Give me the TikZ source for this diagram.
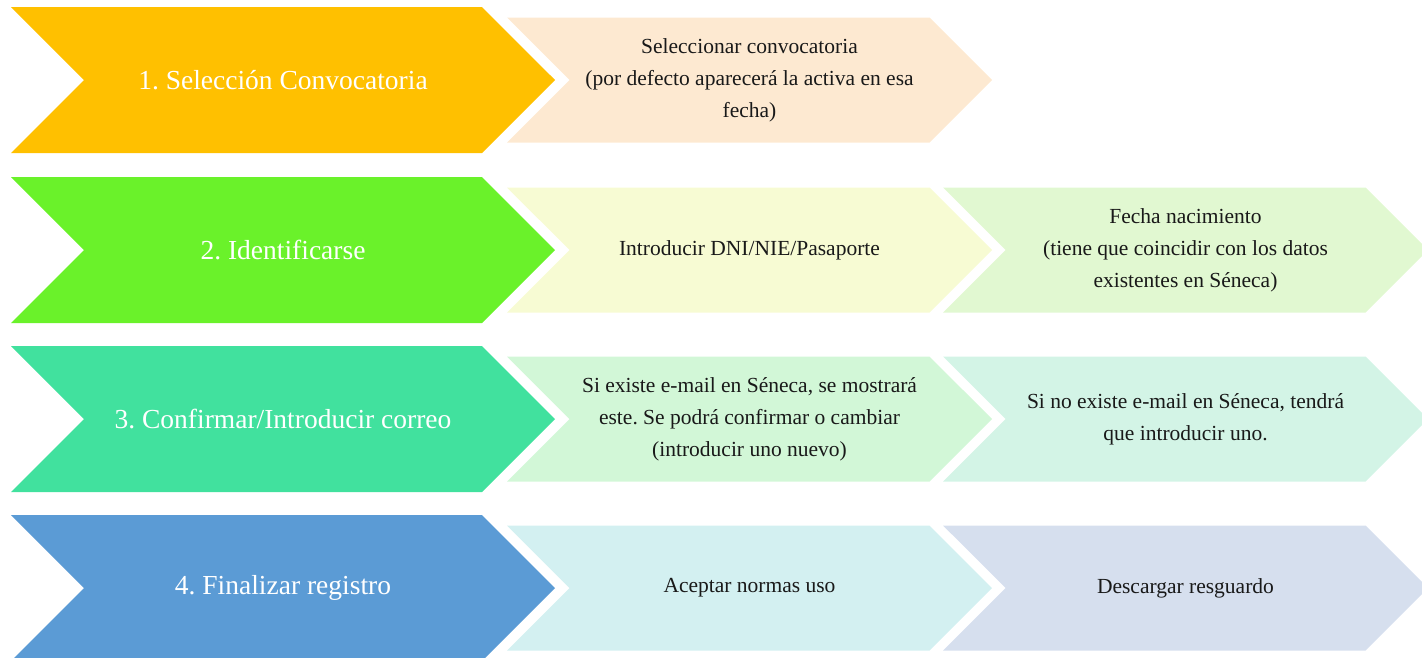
\documentclass[tikz,border=0pt]{standalone}
\usepackage{fontspec}
\setmainfont{Liberation Serif}
\usetikzlibrary{shapes.symbols}
\frenchspacing

\definecolor{amarillo}{HTML}{FFC000}
\definecolor{naranjaclaro}{HTML}{FDE9D1}
\definecolor{verdelima}{HTML}{6AF22A}
\definecolor{amarilloclaro}{HTML}{F7FBD3}
\definecolor{verdeclaro}{HTML}{E1F8D1}
\definecolor{turquesa}{HTML}{41E19E}
\definecolor{mentaclaro}{HTML}{D2F7D7}
\definecolor{aguaclaro}{HTML}{D3F4E6}
\definecolor{azul}{HTML}{5B9BD5}
\definecolor{celesteclaro}{HTML}{D3F0F1}
\definecolor{azulclaro}{HTML}{D6DFEE}

\begin{document}
\begin{tikzpicture}[x=1pt, y=-1pt,
    paso/.style={signal, signal from=west, signal to=east,
        minimum width=544pt, minimum height=146pt, inner sep=0pt,
        text=white, align=center, font=\fontsize{27.5}{32}\selectfont},
    detalle/.style={signal, signal from=west, signal to=east,
        minimum width=485pt, minimum height=125pt, inner sep=0pt,
        text=black!90, align=center, font=\fontsize{21.5}{32}\selectfont}]
    \useasboundingbox (0,0) rectangle (1422,657);
    \clip (0,0) rectangle (1422,657);

    % Fila 1: seleccion de convocatoria
    \node[paso, fill=amarillo] (paso1) at (283,80) {1. Selección Convocatoria};
    \node[detalle, fill=naranjaclaro] (det1a) at (749.5,80)
        {Seleccionar convocatoria\\(por defecto aparecerá la activa en esa\\fecha)};

    % Fila 2: identificacion
    \node[paso, fill=verdelima] (paso2) at (283,250) {2. Identificarse};
    \node[detalle, fill=amarilloclaro] (det2a) at (749.5,250) {Introducir DNI/NIE/Pasaporte};
    \node[detalle, fill=verdeclaro] (det2b) at (1185.5,250)
        {Fecha nacimiento\\(tiene que coincidir con los datos\\existentes en Séneca)};

    % Fila 3: correo
    \node[paso, fill=turquesa] (paso3) at (283,419) {3. Confirmar/Introducir correo};
    \node[detalle, fill=mentaclaro] (det3a) at (749.5,419)
        {Si existe e-mail en Séneca, se mostrará\\este. Se podrá confirmar o cambiar\\(introducir uno nuevo)};
    \node[detalle, fill=aguaclaro] (det3b) at (1185.5,419)
        {Si no existe e-mail en Séneca, tendrá\\que introducir uno.};

    % Fila 4: fin del registro
    \node[paso, fill=azul] (paso4) at (283,588) {4. Finalizar registro};
    \node[detalle, fill=celesteclaro] (det4a) at (749.5,588) {Aceptar normas uso};
    \node[detalle, fill=azulclaro] (det4b) at (1185.5,588) {Descargar resguardo};
\end{tikzpicture}
\end{document}
